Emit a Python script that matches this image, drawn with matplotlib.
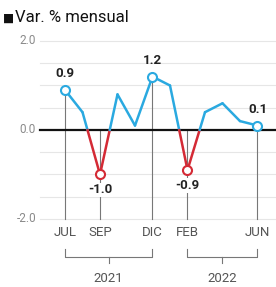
import matplotlib
matplotlib.use("Agg")
import matplotlib.pyplot as plt
import numpy as np

months = ["JUL", "AGO", "SEP", "OCT", "NOV", "DIC", "ENE", "FEB", "MAR", "ABR", "MAY", "JUN"]
values = [0.9, 0.4, -1.0, 0.8, 0.1, 1.2, 1.0, -0.9, 0.4, 0.6, 0.2, 0.1]
highlight_idx = [0, 2, 5, 7, 11]
highlight_labels = ["0.9", "-1.0", "1.2", "-0.9", "0.1"]
tick_labels = ["JUL", "SEP", "DIC", "FEB", "JUN"]
years = ["2021", "2022"]
year_spans = [(0, 5), (7, 11)]
yticks = [2.0, 0.0, -2.0]
ytick_labels = ["2.0", "0.0", "-2.0"]
title = "Var. % mensual"

BLUE = "#2AA9E0"
RED = "#D42A35"
GRAY = "#555555"
FONT = ["Roboto", "DejaVu Sans"]

fig = plt.figure(figsize=(2.76, 2.87), dpi=100)
ax = fig.add_axes([0, 0, 1, 1])
x0px, dx = 65.0, 17.5
y0px, dy = 130.0, 44.5
ax.set_xlim(-x0px / dx, (276 - x0px) / dx)
ax.set_ylim((y0px - 287) / dy, y0px / dy)
ax.axis("off")

def px(xp):
    return (xp - x0px) / dx

def py(yp):
    return (y0px - yp) / dy

xleft = px(40)
xright = px(276)
# gridlines
for g in np.arange(-2.0, 2.01, 0.5):
    if abs(g) < 1e-9:
        continue
    ax.plot([xleft, xright], [g, g], color="#E6E6E6", lw=0.8, zorder=1)
ax.plot([xleft, xright], [0, 0], color="#111111", lw=1.6, zorder=3)

for t, lab in zip(yticks, ytick_labels):
    ax.text(px(36), t, lab, ha="right", va="center", fontsize=8.5,
            color="#8A8A8A", family=FONT)

x = np.arange(len(values))
# vertical guide lines
for i in highlight_idx:
    ax.plot([i, i], [max(values[i], 0), -2.0], color="#777777", lw=0.8, zorder=2)

# split line into above/below zero segments
for i in range(len(values) - 1):
    xa, ya, xb, yb = x[i], values[i], x[i + 1], values[i + 1]
    if ya * yb < 0:
        xc = xa + (0 - ya) / (yb - ya) * (xb - xa)
        ax.plot([xa, xc], [ya, 0], color=BLUE if ya > 0 else RED, lw=1.8,
                zorder=4, solid_capstyle="round")
        ax.plot([xc, xb], [0, yb], color=BLUE if yb > 0 else RED, lw=1.8,
                zorder=4, solid_capstyle="round")
    else:
        c = BLUE if (ya + yb) >= 0 else RED
        ax.plot([xa, xb], [ya, yb], color=c, lw=1.8, zorder=4,
                solid_capstyle="round")

for i, lab in zip(highlight_idx, highlight_labels):
    v = values[i]
    c = BLUE if v >= 0 else RED
    ax.plot(i, v, "o", ms=6.5, mfc="white", mec=c, mew=1.5, zorder=5)
    if v >= 0:
        ax.text(i, v + 0.22, lab, ha="center", va="bottom", fontsize=9.5,
                fontweight="bold", color="#222222", family=FONT, zorder=6)
    else:
        ax.text(i, v - 0.2, lab, ha="center", va="top", fontsize=9.5,
                fontweight="bold", color="#222222", family=FONT, zorder=6,
                bbox=dict(boxstyle="square,pad=0.05", fc="white", ec="none"))

for i, lab in zip(highlight_idx, tick_labels):
    ax.text(i, py(233), lab, ha="center", va="center", fontsize=9.5,
            color=GRAY, family=FONT)

# year brackets
ytop, ybot = py(249), py(257)
for (a, b), yr in zip(year_spans, years):
    ax.plot([a, a, b, b], [ytop, ybot, ybot, ytop], color="#777777", lw=0.8)
    m = (a + b) / 2
    ax.plot([m, m], [ybot, py(263)], color="#777777", lw=0.8)
    ax.text(m, py(278), yr, ha="center", va="center", fontsize=9.5,
            color=GRAY, family=FONT)

# title
ax.text(px(3), py(18), "\u25A0", ha="left", va="center", fontsize=8.5,
        color="#111111", family=["DejaVu Sans"])
ax.text(px(15), py(18), title, ha="left", va="center", fontsize=12,
        color="#111111", family=FONT)

fig.savefig("out.png", dpi=100)
